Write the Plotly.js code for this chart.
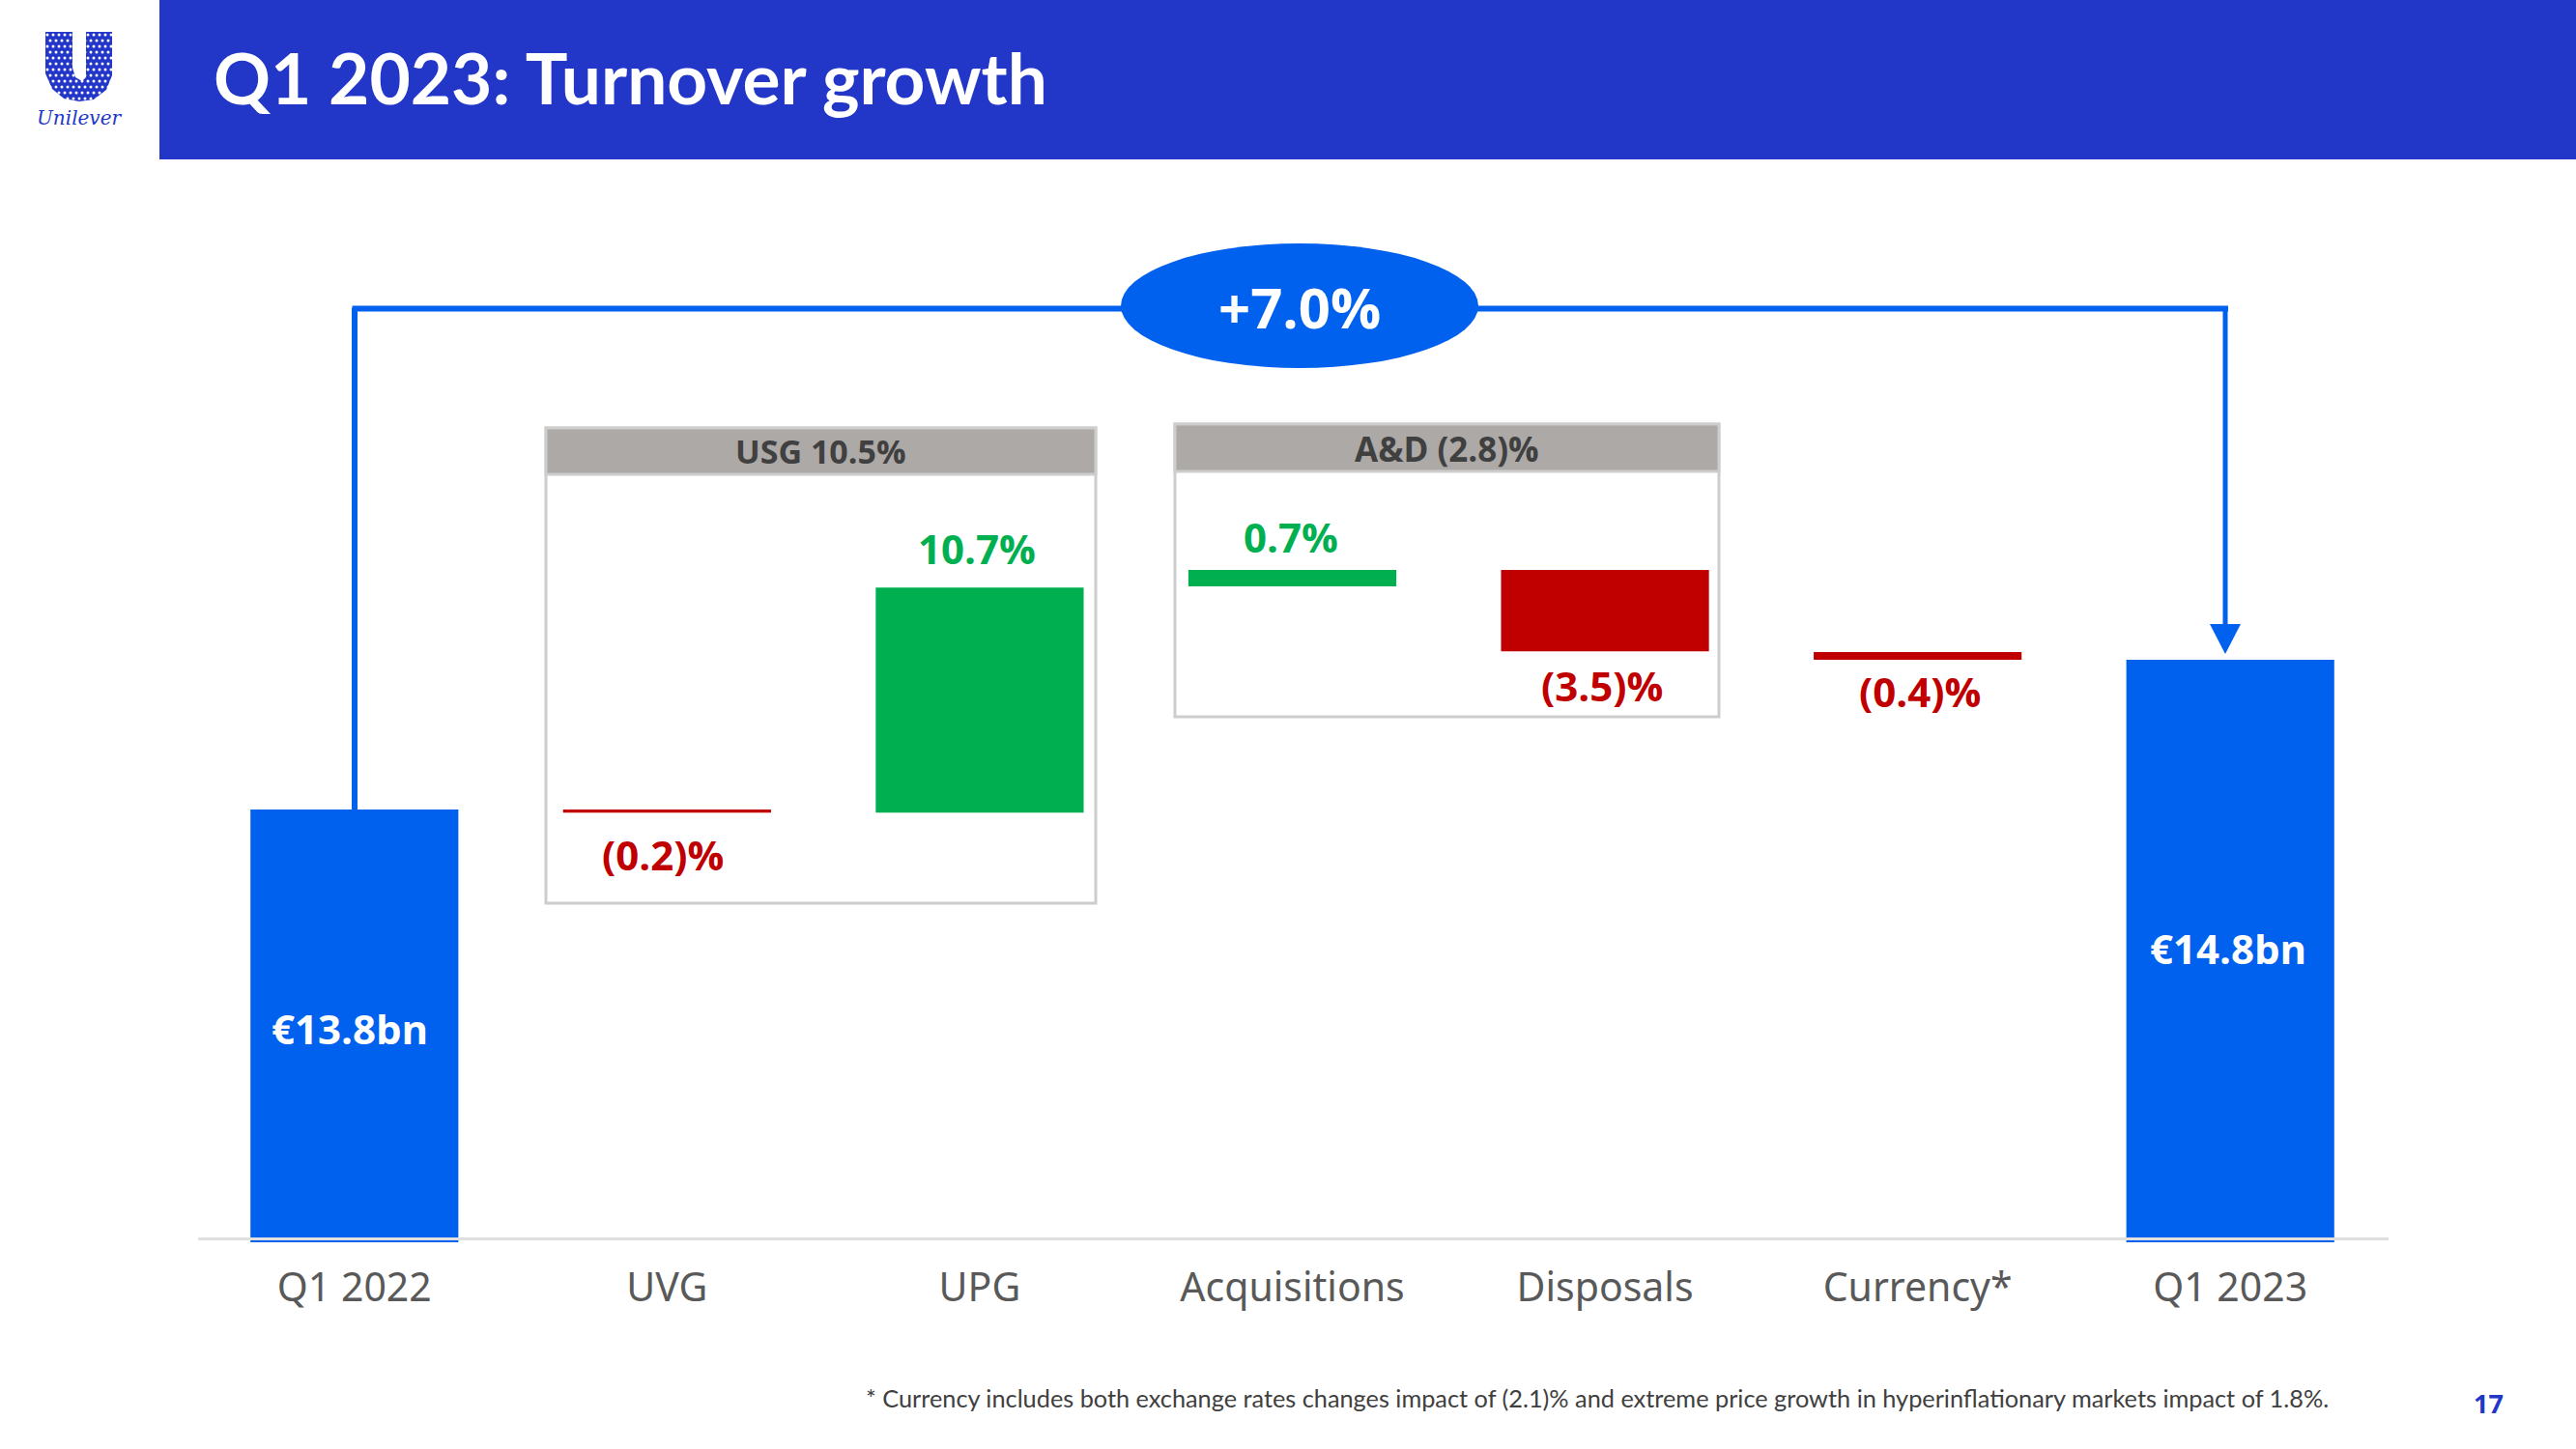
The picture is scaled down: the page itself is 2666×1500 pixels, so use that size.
<!DOCTYPE html>
<html><head><meta charset="utf-8">
<script src="https://cdn.plot.ly/plotly-3.0.1.min.js"></script>
<style>html,body{margin:0;padding:0;background:#fff}#c{width:2666px;height:1500px}</style>
</head><body><div id="c"></div>
<script>
// Waterfall, index points with Q1 2022 = 100
const categories = ["Q1 2022","UVG","UPG","Acquisitions","Disposals","Currency*","Q1 2023"];
const barBase   = [79.64, 99.85, 99.85, 110.50, 107.45, 107.05, 79.64];
const barTop    = [100.00,100.00,110.45,111.27, 111.27, 107.41, 107.05];
const barColors = ["#0061EF","#C00000","#00B050","#00B050","#C00000","#C00000","#0061EF"];
const barLabels = ["€13.8bn","(0.2)%","10.7%","0.7%","(3.5)%","(0.4)%","€14.8bn"];
const labelY    = [89.7, 97.9, 112.3, 112.82, 105.85, 105.55, 93.5];
const labelColors = ["#fff","#C00000","#00B050","#00B050","#C00000","#C00000","#fff"];
const labelDx   = [-5,-4,-3,-2,-3,2,-2];
const groupTitles = ["USG 10.5%","A&D (2.8)%"];
const totalGrowth = "+7.0%";
const pageTitle = "Q1 2023: Turnover growth";
const footnote = "* Currency includes both exchange rates changes impact of (2.1)% and extreme price growth in hyperinflationary markets impact of 1.8%.";
const pageNumber = "17";

const W = 2666, H = 1500, PL = 205, PR = 2470, PT = 0, PB = 1286;
const px = x => (x - PL) / (PR - PL), py = y => (PB - y) / (PB - PT);
const BLUE = "#0061EF", NAVY = "#2236C8", GREY = "#CDCDCD", HEAD = "#ADA9A7";
const rect = (x0,y0,x1,y1,fill,line,layer) => ({type:"rect",xref:"paper",yref:"paper",x0:px(x0),x1:px(x1),y0:py(y0),y1:py(y1),
  fillcolor:fill,line:line?{color:line,width:3}:{width:0},layer:layer||"below"});
const seg = (x0,y0,x1,y1,w) => ({type:"line",xref:"paper",yref:"paper",x0:px(x0),x1:px(x1),y0:py(y0),y1:py(y1),line:{color:BLUE,width:w},layer:"above"});
const poly = (pts,fill,layer) => ({type:"path",xref:"paper",yref:"paper",
  path:"M"+pts.map(p=>px(p[0])+","+py(p[1])).join("L")+"Z",fillcolor:fill,line:{width:0},layer:layer||"above"});

// Logo: U silhouette with a regular grid of white specks
const uShape = [[47,33],[75,33],[75,70],[78,80],[85,84],[89,80],[89,33],[116,33],[116,78],[110,93],[97,103],[82,105],[66,102],[54,92],[47,76]];
const specks = [];
for (let r = 0; r < 12; r++) for (let c = 0; c < 12; c++) {
  const x = 49 + c*6 + (r%2)*3, y = 36 + r*6;
  specks.push({type:"circle",xref:"paper",yref:"paper",x0:px(x-1.5),x1:px(x+1.5),y0:py(y+1.5),y1:py(y-1.5),fillcolor:"#fff",line:{width:0},layer:"above"});
}

const shapes = [
  rect(165,0,W,165,NAVY,null),
  rect(565,443,1134,935,"#fff",GREY),
  rect(565,443,1134,491,HEAD,GREY),
  rect(1216,439,1779,742,"#fff",GREY),
  rect(1216,439,1779,488,HEAD,GREY),
  seg(367,319,367,838,6),
  seg(364.5,319.5,2306,319.5,6),
  seg(2303,317,2303,650,5),
  poly([[2287,646],[2319,646],[2303,677]],BLUE),
  {type:"circle",xref:"paper",yref:"paper",x0:px(1160),x1:px(1530),y0:py(381),y1:py(252),fillcolor:BLUE,line:{width:0},layer:"above"},
  rect(205,1281,2472,1284,"#E0E0E0",null,"above"),
  poly(uShape,NAVY),
  ...specks
];

const note = (text,x,y,size,color,weight,family,anchor) => ({text,xref:"paper",yref:"paper",x:px(x),y:py(y),xanchor:anchor||"center",yanchor:"middle",
  showarrow:false,font:{size,color,weight:weight||400,family:family||"Open Sans"}});

const annotations = [
  note(pageTitle,219,80,73,"#fff",700,"Lato","left"),
  note("<i>Unilever</i>",82,122,20,NAVY,400,"DejaVu Serif"),
  note(totalGrowth,1345,318,58,"#fff",700),
  note(groupTitles[0],849,467,34,"#404040",700),
  note(groupTitles[1],1497,464,35,"#404040",700),
  note(footnote,2412,1447,25.3,"#404040",400,"Lato","right"),
  note(pageNumber,2575,1452,27,NAVY,700,"Open Sans"),
  ...barLabels.map((t,i)=>({text:t,x:categories[i],y:labelY[i],xref:"x",yref:"y",xshift:labelDx[i],showarrow:false,yanchor:"middle",
    font:{size:42,color:labelColors[i],weight:700,family:"Open Sans"}}))
];

Plotly.newPlot("c",[{
  type:"bar",
  x:categories,
  base:barBase,
  y:barTop.map((v,i)=>v-barBase[i]),
  marker:{color:barColors,line:{width:0}},
  width:0.665,
  hoverinfo:"skip"
}],{
  width:W,height:H,showlegend:false,
  paper_bgcolor:"#fff",plot_bgcolor:"rgba(0,0,0,0)",
  margin:{l:205,r:196,t:0,b:214,pad:0},
  xaxis:{type:"category",range:[-0.5,6.5],showgrid:false,zeroline:false,showline:false,
    ticks:"outside",ticklen:11,tickcolor:"rgba(0,0,0,0)",tickfont:{size:41,color:"#595959",family:"Noto Sans"}},
  yaxis:{range:[79.64,138.09],visible:false,fixedrange:true},
  shapes,annotations
},{displayModeBar:false,staticPlot:true});
</script></body></html>
